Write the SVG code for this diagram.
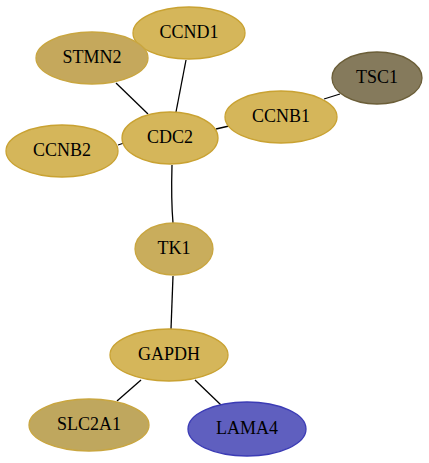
<svg xmlns="http://www.w3.org/2000/svg" width="429" height="463" viewBox="0 0 429 463">
<style>
.e{stroke:#000;stroke-width:1.3;fill:none}
.n{stroke-width:1.3}
.g{fill:#d5b65a;stroke:#c9a232}
text{font-family:"Liberation Serif","Times New Roman",serif;font-size:18px;text-anchor:middle;fill:#000}
</style>
<rect width="429" height="463" fill="#fff"/>
<g id="edges">
<path class="e" d="M116,83 L148,114"/>
<path class="e" d="M186,60 L176,112"/>
<path class="e" d="M118,145 L124,143"/>
<path class="e" d="M216,129 L229,126"/>
<path class="e" d="M324,99 L340,94"/>
<path class="e" d="M172,165 Q171,200 173,223"/>
<path class="e" d="M173,276 L171,329"/>
<path class="e" d="M141,380 L117,401"/>
<path class="e" d="M195,380 L221,405"/>
</g>
<g id="CCND1"><ellipse class="n g" cx="189" cy="33" rx="56" ry="26"/><text x="189" y="37.5">CCND1</text></g>
<g id="STMN2"><ellipse class="n" cx="92" cy="58" rx="56" ry="26" fill="#c5a85c" stroke="#c9a640"/><text x="92" y="62.5">STMN2</text></g>
<g id="TSC1"><ellipse class="n" cx="377" cy="78" rx="45" ry="26" fill="#857a5c" stroke="#6b5e38"/><text x="377" y="82.5">TSC1</text></g>
<g id="CCNB1"><ellipse class="n g" cx="281" cy="117" rx="56" ry="26"/><text x="281" y="121.5">CCNB1</text></g>
<g id="CDC2"><ellipse class="n g" cx="170" cy="138" rx="48" ry="26"/><text x="170" y="142.5">CDC2</text></g>
<g id="CCNB2"><ellipse class="n g" cx="62" cy="151" rx="56" ry="26"/><text x="62" y="155.5">CCNB2</text></g>
<g id="TK1"><ellipse class="n" cx="174" cy="249" rx="39" ry="26" fill="#c9ad5c" stroke="#c9a640"/><text x="174" y="253.5">TK1</text></g>
<g id="GAPDH"><ellipse class="n g" cx="169" cy="355" rx="59" ry="26"/><text x="169" y="359.5">GAPDH</text></g>
<g id="SLC2A1"><ellipse class="n" cx="89" cy="425" rx="60" ry="26" fill="#bfa75e" stroke="#c9a640"/><text x="89" y="429.5">SLC2A1</text></g>
<g id="LAMA4"><ellipse class="n" cx="247" cy="429" rx="59" ry="27" fill="#5f5fbf" stroke="#3b3bb5"/><text x="247" y="433.5">LAMA4</text></g>
</svg>
